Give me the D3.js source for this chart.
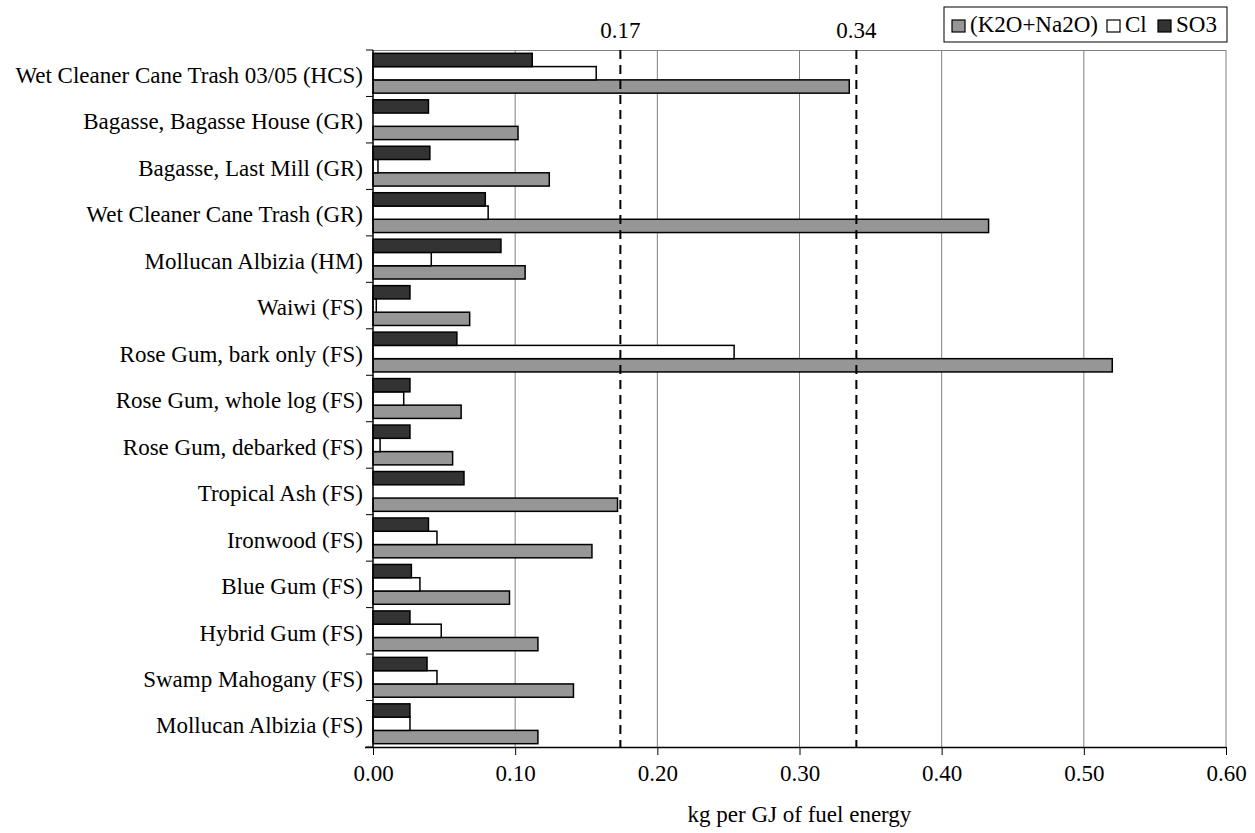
<!DOCTYPE html>
<html>
<head>
<meta charset="utf-8">
<script src="https://cdn.jsdelivr.net/npm/d3@7"></script>
<style>
  body { margin: 0; background: #fff; }
  svg text { font-family: "Liberation Serif", "Times New Roman", serif; fill: #000; }
</style>
</head>
<body>
<svg id="chart" width="1255" height="833"></svg>
<script>
// data
const categories = [
    "Wet Cleaner Cane Trash 03/05 (HCS)",
    "Bagasse, Bagasse House (GR)",
    "Bagasse, Last Mill (GR)",
    "Wet Cleaner Cane Trash (GR)",
    "Mollucan Albizia (HM)",
    "Waiwi (FS)",
    "Rose Gum, bark only (FS)",
    "Rose Gum, whole log (FS)",
    "Rose Gum, debarked (FS)",
    "Tropical Ash (FS)",
    "Ironwood (FS)",
    "Blue Gum (FS)",
    "Hybrid Gum (FS)",
    "Swamp Mahogany (FS)",
    "Mollucan Albizia (FS)"
];
const alkali = [0.335, 0.102, 0.124, 0.433, 0.107, 0.068, 0.520, 0.062, 0.056, 0.172, 0.154, 0.096, 0.116, 0.141, 0.116];
const chlorine = [0.157, 0, 0.0035, 0.081, 0.041, 0.0023, 0.254, 0.0216, 0.005, 0, 0.045, 0.033, 0.048, 0.045, 0.026];
const sulfur = [0.112, 0.039, 0.040, 0.079, 0.090, 0.026, 0.059, 0.026, 0.026, 0.064, 0.039, 0.027, 0.026, 0.038, 0.026];

const seriesNames = ["(K2O+Na2O)", "Cl", "SO3"];
const seriesColors = ["#969696", "#ffffff", "#333333"];
const thresholds = [0.174, 0.34];
const thresholdLabels = ["0.17", "0.34"];
const xTicks = [0, 0.1, 0.2, 0.3, 0.4, 0.5, 0.6];

const margin = { top: 50, right: 29, bottom: 86, left: 373 };
const width = 1255, height = 833;
const svg = d3.select("#chart");
const g = svg.append("g").attr("transform", `translate(${margin.left},${margin.top})`);
const w = width - margin.left - margin.right;
const h = height - margin.top - margin.bottom;
const fs = "23px";

const x = d3.scaleLinear().domain([0, 0.6]).range([0, w]);
const y = d3.scaleBand().domain(categories).range([0, h]);
// bars inside a category, top to bottom: SO3, Cl, alkali
const inner = d3.scaleBand().domain(["SO3", "Cl", "(K2O+Na2O)"]).range([0, y.bandwidth()]).paddingOuter(0.25).paddingInner(0);

// grid lines
g.append("g")
    .selectAll("line")
    .data(xTicks.slice(1))
    .join("line")
    .attr("x1", d => x(d)).attr("x2", d => x(d))
    .attr("y1", 0).attr("y2", h)
    .attr("stroke", "#808080").attr("stroke-width", 1);
g.append("line")
    .attr("x1", 0).attr("x2", w).attr("y1", 0.5).attr("y2", 0.5)
    .attr("stroke", "#808080");

// bars
const rows = categories.map((c, i) => ({ c, vals: { "(K2O+Na2O)": alkali[i], "Cl": chlorine[i], "SO3": sulfur[i] } }));
const row = g.selectAll("g.row")
    .data(rows)
    .join("g")
    .attr("class", "row")
    .attr("transform", d => `translate(0,${y(d.c)})`);

row.selectAll("rect")
    .data(d => seriesNames.map((s, k) => ({ s, k, v: d.vals[s] })))
    .join("rect")
    .attr("x", 0)
    .attr("y", d => inner(d.s))
    .attr("width", d => x(d.v))
    .attr("height", inner.bandwidth())
    .attr("fill", d => seriesColors[d.k])
    .attr("stroke", "#000")
    .attr("stroke-width", d => d.v > 0 ? 1.5 : 0);

// threshold lines
g.selectAll("line.thr")
    .data(thresholds)
    .join("line")
    .attr("class", "thr")
    .attr("x1", d => x(d)).attr("x2", d => x(d))
    .attr("y1", 0).attr("y2", h)
    .attr("stroke", "#000")
    .attr("stroke-width", 2)
    .attr("stroke-dasharray", "9,6");
g.selectAll("text.thr")
    .data(thresholds)
    .join("text")
    .attr("class", "thr")
    .attr("x", d => x(d))
    .attr("y", -12)
    .attr("text-anchor", "middle")
    .style("font-size", fs)
    .text((d, i) => thresholdLabels[i]);

// axes
const xAxis = g.append("g")
    .attr("transform", `translate(0,${h})`)
    .call(d3.axisBottom(x).tickValues(xTicks).tickFormat(d3.format(".2f")).tickSize(8).tickPadding(10));
xAxis.select(".domain").attr("stroke", "#000").attr("stroke-width", 1.5).attr("d", `M-8,0.5H${w}`);
xAxis.selectAll("text").style("font-size", fs).style("font-family", "Liberation Serif, serif");

const yAxis = g.append("g")
    .call(d3.axisLeft(y).tickSize(0).tickPadding(10));
yAxis.select(".domain").attr("stroke", "#000").attr("stroke-width", 1.5).attr("d", `M0,0V${h}`);
yAxis.selectAll("text").style("font-size", fs).style("font-family", "Liberation Serif, serif").attr("dy", "0.42em");

// category boundary ticks
g.append("g")
    .selectAll("line")
    .data(d3.range(categories.length + 1))
    .join("line")
    .attr("x1", -7).attr("x2", 0)
    .attr("y1", i => i * y.step()).attr("y2", i => i * y.step())
    .attr("stroke", "#000");

// axis title
g.append("text")
    .attr("x", w / 2)
    .attr("y", h + 75)
    .attr("text-anchor", "middle")
    .style("font-size", fs)
    .text("kg per GJ of fuel energy");

// legend
const legend = svg.append("g").attr("transform", "translate(944,7)");
legend.append("rect")
    .attr("width", 283).attr("height", 35)
    .attr("fill", "#fff").attr("stroke", "#000").attr("stroke-width", 1);
const legendX = [8, 163, 214];
const item = legend.selectAll("g.item")
    .data(seriesNames)
    .join("g")
    .attr("class", "item")
    .attr("transform", (d, i) => `translate(${legendX[i]},0)`);
item.append("rect")
    .attr("y", 13).attr("width", 13).attr("height", 12)
    .attr("fill", (d, i) => seriesColors[i])
    .attr("stroke", "#000").attr("stroke-width", 1.2);
item.append("text")
    .attr("x", 18).attr("y", 25)
    .style("font-size", fs)
    .text(d => d);
</script>
</body>
</html>
